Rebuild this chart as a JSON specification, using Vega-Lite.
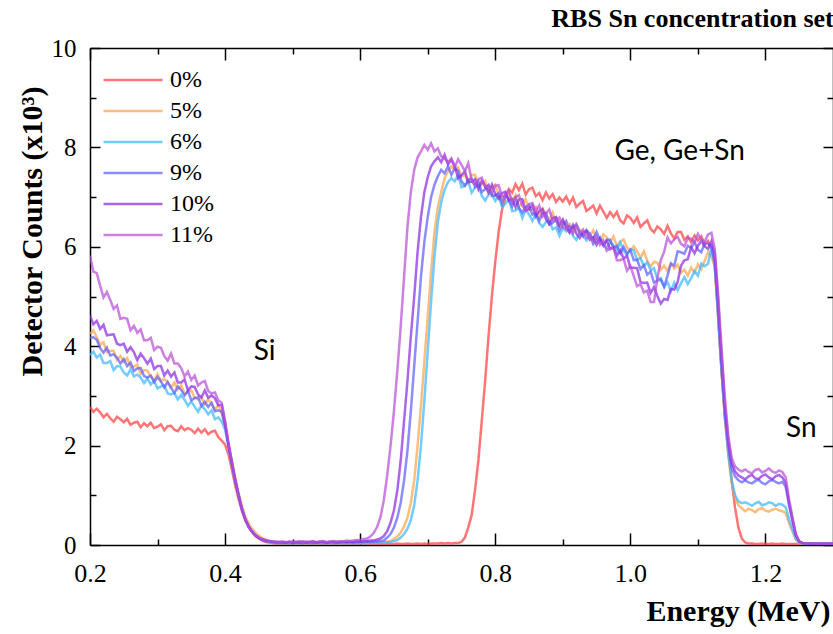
{
"$schema": "https://vega.github.io/schema/vega-lite/v6.json",
"width": 743, "height": 497,
"autosize": {"type": "none"},
"padding": {"left": 90, "top": 48, "right": 0, "bottom": 89},
"background": "white",
"title": {"text": "RBS Sn concentration set", "anchor": "end", "font": "Liberation Serif", "fontSize": 26, "fontWeight": "bold", "color": "#000", "offset": 4},
"config": {"view": {"stroke": null}, "font": "Liberation Serif", "axis": {"labelFont": "Liberation Serif", "titleFont": "Liberation Serif"}, "legend": {"labelFont": "Liberation Serif"}},
"datasets": {
"spec": [
{"e":0.200,"0%":2.78,"5%":4.25,"6%":3.82,"9%":4.17,"10%":4.62,"11%":5.82},
{"e":0.205,"0%":2.68,"5%":4.32,"6%":3.89,"9%":4.18,"10%":4.44,"11%":5.50},
{"e":0.210,"0%":2.74,"5%":4.18,"6%":3.77,"9%":4.13,"10%":4.51,"11%":5.47},
{"e":0.215,"0%":2.67,"5%":4.03,"6%":3.83,"9%":3.96,"10%":4.35,"11%":5.22},
{"e":0.220,"0%":2.57,"5%":4.08,"6%":3.66,"9%":3.87,"10%":4.43,"11%":4.98},
{"e":0.225,"0%":2.64,"5%":3.88,"6%":3.66,"9%":3.97,"10%":4.22,"11%":5.09},
{"e":0.230,"0%":2.55,"5%":3.91,"6%":3.70,"9%":3.81,"10%":4.23,"11%":4.93},
{"e":0.235,"0%":2.48,"5%":3.91,"6%":3.52,"9%":3.84,"10%":4.24,"11%":4.75},
{"e":0.240,"0%":2.58,"5%":3.72,"6%":3.60,"9%":3.77,"10%":4.05,"11%":4.82},
{"e":0.245,"0%":2.53,"5%":3.80,"6%":3.59,"9%":3.65,"10%":4.02,"11%":4.55},
{"e":0.250,"0%":2.47,"5%":3.69,"6%":3.47,"9%":3.74,"10%":4.05,"11%":4.57},
{"e":0.255,"0%":2.54,"5%":3.76,"6%":3.41,"9%":3.60,"10%":3.89,"11%":4.55},
{"e":0.260,"0%":2.42,"5%":3.58,"6%":3.53,"9%":3.67,"10%":3.98,"11%":4.32},
{"e":0.265,"0%":2.46,"5%":3.59,"6%":3.39,"9%":3.50,"10%":3.88,"11%":4.41},
{"e":0.270,"0%":2.48,"5%":3.63,"6%":3.43,"9%":3.55,"10%":3.72,"11%":4.27},
{"e":0.275,"0%":2.37,"5%":3.44,"6%":3.37,"9%":3.56,"10%":3.85,"11%":4.34},
{"e":0.280,"0%":2.45,"5%":3.52,"6%":3.26,"9%":3.40,"10%":3.76,"11%":4.12},
{"e":0.285,"0%":2.39,"5%":3.51,"6%":3.35,"9%":3.37,"10%":3.65,"11%":4.12},
{"e":0.290,"0%":2.46,"5%":3.38,"6%":3.23,"9%":3.41,"10%":3.75,"11%":4.17},
{"e":0.295,"0%":2.35,"5%":3.32,"6%":3.30,"9%":3.28,"10%":3.54,"11%":3.92},
{"e":0.300,"0%":2.38,"5%":3.44,"6%":3.15,"9%":3.38,"10%":3.60,"11%":3.99},
{"e":0.305,"0%":2.43,"5%":3.30,"6%":3.19,"9%":3.29,"10%":3.60,"11%":3.97},
{"e":0.310,"0%":2.31,"5%":3.34,"6%":3.21,"9%":3.17,"10%":3.41,"11%":3.80},
{"e":0.315,"0%":2.39,"5%":3.28,"6%":3.05,"9%":3.28,"10%":3.51,"11%":3.71},
{"e":0.320,"0%":2.40,"5%":3.17,"6%":3.03,"9%":3.16,"10%":3.39,"11%":3.85},
{"e":0.325,"0%":2.32,"5%":3.27,"6%":3.06,"9%":3.06,"10%":3.47,"11%":3.65},
{"e":0.330,"0%":2.29,"5%":3.13,"6%":2.93,"9%":3.19,"10%":3.27,"11%":3.65},
{"e":0.335,"0%":2.39,"5%":3.21,"6%":3.02,"9%":3.12,"10%":3.27,"11%":3.56},
{"e":0.340,"0%":2.31,"5%":3.04,"6%":2.92,"9%":3.01,"10%":3.33,"11%":3.39},
{"e":0.345,"0%":2.35,"5%":3.09,"6%":2.80,"9%":3.10,"10%":3.11,"11%":3.49},
{"e":0.350,"0%":2.32,"5%":3.11,"6%":2.89,"9%":2.91,"10%":3.19,"11%":3.32},
{"e":0.355,"0%":2.25,"5%":2.96,"6%":2.78,"9%":2.96,"10%":3.18,"11%":3.41},
{"e":0.360,"0%":2.34,"5%":2.93,"6%":2.68,"9%":2.97,"10%":3.03,"11%":3.21},
{"e":0.365,"0%":2.26,"5%":2.97,"6%":2.81,"9%":2.80,"10%":2.97,"11%":3.27},
{"e":0.370,"0%":2.33,"5%":2.83,"6%":2.73,"9%":2.88,"10%":3.11,"11%":3.30},
{"e":0.375,"0%":2.23,"5%":2.93,"6%":2.63,"9%":2.78,"10%":2.96,"11%":3.10},
{"e":0.380,"0%":2.28,"5%":2.84,"6%":2.71,"9%":2.86,"10%":3.01,"11%":3.05},
{"e":0.385,"0%":2.30,"5%":2.72,"6%":2.53,"9%":2.69,"10%":2.95,"11%":3.07},
{"e":0.390,"0%":2.17,"5%":2.82,"6%":2.57,"9%":2.71,"10%":2.81,"11%":2.91},
{"e":0.395,"0%":2.10,"5%":2.65,"6%":2.48,"9%":2.68,"10%":2.82,"11%":2.86},
{"e":0.400,"0%":2.02,"5%":2.42,"6%":2.32,"9%":2.40,"10%":2.45,"11%":2.50},
{"e":0.405,"0%":1.82,"5%":2.05,"6%":1.98,"9%":2.00,"10%":2.02,"11%":2.05},
{"e":0.410,"0%":1.52,"5%":1.70,"6%":1.62,"9%":1.64,"10%":1.66,"11%":1.68},
{"e":0.415,"0%":1.20,"5%":1.36,"6%":1.28,"9%":1.30,"10%":1.31,"11%":1.32},
{"e":0.420,"0%":0.92,"5%":1.05,"6%":0.98,"9%":0.99,"10%":1.00,"11%":1.01},
{"e":0.425,"0%":0.68,"5%":0.78,"6%":0.72,"9%":0.72,"10%":0.72,"11%":0.73},
{"e":0.430,"0%":0.50,"5%":0.58,"6%":0.52,"9%":0.51,"10%":0.50,"11%":0.51},
{"e":0.435,"0%":0.36,"5%":0.43,"6%":0.38,"9%":0.37,"10%":0.36,"11%":0.37},
{"e":0.440,"0%":0.26,"5%":0.33,"6%":0.28,"9%":0.27,"10%":0.26,"11%":0.27},
{"e":0.445,"0%":0.18,"5%":0.25,"6%":0.20,"9%":0.19,"10%":0.19,"11%":0.20},
{"e":0.450,"0%":0.13,"5%":0.19,"6%":0.15,"9%":0.14,"10%":0.14,"11%":0.15},
{"e":0.455,"0%":0.09,"5%":0.14,"6%":0.11,"9%":0.11,"10%":0.11,"11%":0.12},
{"e":0.460,"0%":0.06,"5%":0.11,"6%":0.08,"9%":0.08,"10%":0.09,"11%":0.10},
{"e":0.465,"0%":0.05,"5%":0.08,"6%":0.06,"9%":0.07,"10%":0.08,"11%":0.08},
{"e":0.470,"0%":0.04,"5%":0.06,"6%":0.05,"9%":0.06,"10%":0.07,"11%":0.07},
{"e":0.475,"0%":0.03,"5%":0.05,"6%":0.04,"9%":0.05,"10%":0.06,"11%":0.07},
{"e":0.480,"0%":0.03,"5%":0.04,"6%":0.04,"9%":0.05,"10%":0.06,"11%":0.06},
{"e":0.485,"0%":0.02,"5%":0.04,"6%":0.03,"9%":0.05,"10%":0.06,"11%":0.07},
{"e":0.490,"0%":0.03,"5%":0.03,"6%":0.04,"9%":0.04,"10%":0.05,"11%":0.06},
{"e":0.495,"0%":0.02,"5%":0.05,"6%":0.03,"9%":0.06,"10%":0.07,"11%":0.05},
{"e":0.500,"0%":0.02,"5%":0.04,"6%":0.04,"9%":0.04,"10%":0.05,"11%":0.07},
{"e":0.505,"0%":0.03,"5%":0.03,"6%":0.03,"9%":0.05,"10%":0.06,"11%":0.06},
{"e":0.510,"0%":0.02,"5%":0.04,"6%":0.04,"9%":0.06,"10%":0.05,"11%":0.08},
{"e":0.515,"0%":0.02,"5%":0.05,"6%":0.03,"9%":0.04,"10%":0.07,"11%":0.06},
{"e":0.520,"0%":0.03,"5%":0.03,"6%":0.04,"9%":0.05,"10%":0.05,"11%":0.07},
{"e":0.525,"0%":0.02,"5%":0.04,"6%":0.03,"9%":0.06,"10%":0.06,"11%":0.06},
{"e":0.530,"0%":0.02,"5%":0.05,"6%":0.04,"9%":0.04,"10%":0.07,"11%":0.08},
{"e":0.535,"0%":0.03,"5%":0.03,"6%":0.03,"9%":0.05,"10%":0.05,"11%":0.06},
{"e":0.540,"0%":0.02,"5%":0.04,"6%":0.04,"9%":0.06,"10%":0.06,"11%":0.07},
{"e":0.545,"0%":0.02,"5%":0.05,"6%":0.03,"9%":0.05,"10%":0.07,"11%":0.08},
{"e":0.550,"0%":0.03,"5%":0.04,"6%":0.04,"9%":0.04,"10%":0.05,"11%":0.06},
{"e":0.555,"0%":0.02,"5%":0.03,"6%":0.03,"9%":0.06,"10%":0.06,"11%":0.07},
{"e":0.560,"0%":0.02,"5%":0.05,"6%":0.04,"9%":0.05,"10%":0.07,"11%":0.08},
{"e":0.565,"0%":0.03,"5%":0.04,"6%":0.03,"9%":0.06,"10%":0.05,"11%":0.07},
{"e":0.570,"0%":0.02,"5%":0.03,"6%":0.04,"9%":0.05,"10%":0.06,"11%":0.08},
{"e":0.575,"0%":0.02,"5%":0.05,"6%":0.03,"9%":0.06,"10%":0.07,"11%":0.07},
{"e":0.580,"0%":0.03,"5%":0.04,"6%":0.04,"9%":0.05,"10%":0.06,"11%":0.09},
{"e":0.585,"0%":0.02,"5%":0.04,"6%":0.03,"9%":0.06,"10%":0.07,"11%":0.08},
{"e":0.590,"0%":0.02,"5%":0.05,"6%":0.04,"9%":0.05,"10%":0.06,"11%":0.09},
{"e":0.595,"0%":0.03,"5%":0.04,"6%":0.03,"9%":0.06,"10%":0.08,"11%":0.10},
{"e":0.600,"0%":0.02,"5%":0.05,"6%":0.04,"9%":0.06,"10%":0.07,"11%":0.10},
{"e":0.605,"0%":0.02,"5%":0.04,"6%":0.03,"9%":0.06,"10%":0.08,"11%":0.12},
{"e":0.610,"0%":0.03,"5%":0.05,"6%":0.04,"9%":0.07,"10%":0.08,"11%":0.13},
{"e":0.615,"0%":0.02,"5%":0.05,"6%":0.04,"9%":0.06,"10%":0.09,"11%":0.17},
{"e":0.620,"0%":0.02,"5%":0.04,"6%":0.04,"9%":0.07,"10%":0.09,"11%":0.24},
{"e":0.625,"0%":0.03,"5%":0.05,"6%":0.05,"9%":0.07,"10%":0.11,"11%":0.36},
{"e":0.630,"0%":0.02,"5%":0.06,"6%":0.04,"9%":0.08,"10%":0.13,"11%":0.56},
{"e":0.635,"0%":0.02,"5%":0.05,"6%":0.05,"9%":0.09,"10%":0.18,"11%":0.90},
{"e":0.640,"0%":0.03,"5%":0.07,"6%":0.05,"9%":0.15,"10%":0.28,"11%":1.40},
{"e":0.645,"0%":0.02,"5%":0.08,"6%":0.06,"9%":0.22,"10%":0.45,"11%":2.00},
{"e":0.650,"0%":0.02,"5%":0.12,"6%":0.08,"9%":0.35,"10%":0.70,"11%":2.70},
{"e":0.655,"0%":0.03,"5%":0.17,"6%":0.10,"9%":0.55,"10%":1.10,"11%":3.50},
{"e":0.660,"0%":0.02,"5%":0.25,"6%":0.15,"9%":0.85,"10%":1.70,"11%":4.40},
{"e":0.665,"0%":0.02,"5%":0.38,"6%":0.22,"9%":1.30,"10%":2.50,"11%":5.40},
{"e":0.670,"0%":0.03,"5%":0.55,"6%":0.33,"9%":1.90,"10%":3.30,"11%":6.40},
{"e":0.675,"0%":0.02,"5%":0.85,"6%":0.50,"9%":2.70,"10%":4.20,"11%":7.10},
{"e":0.680,"0%":0.02,"5%":1.30,"6%":0.80,"9%":3.60,"10%":5.00,"11%":7.55},
{"e":0.685,"0%":0.03,"5%":2.00,"6%":1.30,"9%":4.50,"10%":5.90,"11%":7.80},
{"e":0.690,"0%":0.02,"5%":2.80,"6%":2.00,"9%":5.40,"10%":6.60,"11%":7.92},
{"e":0.695,"0%":0.03,"5%":3.70,"6%":2.90,"9%":6.10,"10%":7.10,"11%":8.05},
{"e":0.700,"0%":0.02,"5%":4.60,"6%":3.90,"9%":6.60,"10%":7.40,"11%":7.95},
{"e":0.705,"0%":0.03,"5%":5.50,"6%":4.90,"9%":7.00,"10%":7.62,"11%":8.08},
{"e":0.710,"0%":0.03,"5%":6.30,"6%":5.80,"9%":7.25,"10%":7.72,"11%":7.92},
{"e":0.715,"0%":0.03,"5%":6.80,"6%":6.50,"9%":7.42,"10%":7.80,"11%":7.98},
{"e":0.720,"0%":0.04,"5%":7.10,"6%":6.90,"9%":7.55,"10%":7.70,"11%":7.82},
{"e":0.725,"0%":0.03,"5%":7.38,"6%":7.15,"9%":7.48,"10%":7.85,"11%":7.78},
{"e":0.730,"0%":0.04,"5%":7.52,"6%":7.30,"9%":7.62,"10%":7.66,"11%":7.70},
{"e":0.735,"0%":0.03,"5%":7.62,"6%":7.38,"9%":7.45,"10%":7.75,"11%":7.78},
{"e":0.740,"0%":0.04,"5%":7.55,"6%":7.32,"9%":7.58,"10%":7.62,"11%":7.60},
{"e":0.745,"0%":0.04,"5%":7.60,"6%":7.44,"9%":7.53,"10%":7.38,"11%":7.76},
{"e":0.750,"0%":0.06,"5%":7.41,"6%":7.20,"9%":7.32,"10%":7.44,"11%":7.65},
{"e":0.755,"0%":0.15,"5%":7.45,"6%":7.23,"9%":7.23,"10%":7.52,"11%":7.52},
{"e":0.760,"0%":0.35,"5%":7.29,"6%":7.31,"9%":7.35,"10%":7.30,"11%":7.68},
{"e":0.765,"0%":0.60,"5%":7.44,"6%":7.09,"9%":7.37,"10%":7.31,"11%":7.34},
{"e":0.770,"0%":1.10,"5%":7.45,"6%":7.19,"9%":7.21,"10%":7.36,"11%":7.25},
{"e":0.775,"0%":1.70,"5%":7.22,"6%":7.23,"9%":7.32,"10%":7.16,"11%":7.36},
{"e":0.780,"0%":2.50,"5%":7.25,"6%":7.03,"9%":7.10,"10%":7.33,"11%":7.39},
{"e":0.785,"0%":3.30,"5%":7.32,"6%":6.93,"9%":7.16,"10%":7.22,"11%":7.20},
{"e":0.790,"0%":4.20,"5%":7.10,"6%":7.05,"9%":7.24,"10%":7.09,"11%":7.24},
{"e":0.795,"0%":5.00,"5%":7.21,"6%":7.07,"9%":7.02,"10%":7.25,"11%":7.08},
{"e":0.800,"0%":5.70,"5%":7.25,"6%":6.92,"9%":7.03,"10%":7.06,"11%":7.23},
{"e":0.805,"0%":6.30,"5%":7.04,"6%":7.02,"9%":7.08,"10%":6.97,"11%":7.24},
{"e":0.810,"0%":6.75,"5%":6.95,"6%":6.80,"9%":6.88,"10%":7.08,"11%":7.01},
{"e":0.815,"0%":6.98,"5%":7.07,"6%":6.87,"9%":7.05,"10%":7.11,"11%":7.04},
{"e":0.820,"0%":7.16,"5%":7.09,"6%":6.95,"9%":6.95,"10%":6.93,"11%":7.12},
{"e":0.825,"0%":7.09,"5%":6.93,"6%":6.72,"9%":6.81,"10%":6.96,"11%":6.89},
{"e":0.830,"0%":7.26,"5%":7.04,"6%":6.73,"9%":6.97,"10%":6.80,"11%":7.00},
{"e":0.835,"0%":7.14,"5%":6.82,"6%":6.79,"9%":6.78,"10%":6.95,"11%":7.04},
{"e":0.840,"0%":7.27,"5%":6.88,"6%":6.58,"9%":6.69,"10%":6.96,"11%":6.83},
{"e":0.845,"0%":7.05,"5%":6.96,"6%":6.75,"9%":6.80,"10%":6.73,"11%":6.74},
{"e":0.850,"0%":7.16,"5%":6.74,"6%":6.65,"9%":6.83,"10%":6.76,"11%":6.86},
{"e":0.855,"0%":7.19,"5%":6.75,"6%":6.52,"9%":6.65,"10%":6.84,"11%":6.88},
{"e":0.860,"0%":7.02,"5%":6.80,"6%":6.67,"9%":6.68,"10%":6.61,"11%":6.72},
{"e":0.865,"0%":7.08,"5%":6.60,"6%":6.48,"9%":6.52,"10%":6.72,"11%":6.83},
{"e":0.870,"0%":6.94,"5%":6.77,"6%":6.40,"9%":6.67,"10%":6.76,"11%":6.61},
{"e":0.875,"0%":7.09,"5%":6.66,"6%":6.50,"9%":6.68,"10%":6.55,"11%":6.67},
{"e":0.880,"0%":6.97,"5%":6.53,"6%":6.53,"9%":6.45,"10%":6.46,"11%":6.75},
{"e":0.885,"0%":7.06,"5%":6.69,"6%":6.35,"9%":6.48,"10%":6.58,"11%":6.53},
{"e":0.890,"0%":6.90,"5%":6.50,"6%":6.39,"9%":6.56,"10%":6.60,"11%":6.54},
{"e":0.895,"0%":6.99,"5%":6.41,"6%":6.22,"9%":6.33,"10%":6.44,"11%":6.59},
{"e":0.900,"0%":6.91,"5%":6.52,"6%":6.37,"9%":6.44,"10%":6.55,"11%":6.39},
{"e":0.905,"0%":7.01,"5%":6.40,"6%":6.31,"9%":6.52,"10%":6.39,"11%":6.36},
{"e":0.910,"0%":6.87,"5%":6.46,"6%":6.40,"9%":6.32,"10%":6.28,"11%":6.41},
{"e":0.915,"0%":6.99,"5%":6.30,"6%":6.22,"9%":6.40,"10%":6.44,"11%":6.27},
{"e":0.920,"0%":6.80,"5%":6.46,"6%":6.14,"9%":6.45,"10%":6.27,"11%":6.40},
{"e":0.925,"0%":6.87,"5%":6.34,"6%":6.30,"9%":6.29,"10%":6.18,"11%":6.28},
{"e":0.930,"0%":6.92,"5%":6.21,"6%":6.23,"9%":6.21,"10%":6.30,"11%":6.35},
{"e":0.935,"0%":6.72,"5%":6.33,"6%":6.13,"9%":6.34,"10%":6.31,"11%":6.18},
{"e":0.940,"0%":6.77,"5%":6.23,"6%":6.24,"9%":6.26,"10%":6.14,"11%":6.24},
{"e":0.945,"0%":6.83,"5%":6.33,"6%":6.05,"9%":6.15,"10%":6.19,"11%":6.08},
{"e":0.950,"0%":6.67,"5%":6.15,"6%":6.13,"9%":6.30,"10%":6.04,"11%":6.20},
{"e":0.955,"0%":6.83,"5%":6.08,"6%":6.19,"9%":6.13,"10%":6.17,"11%":6.04},
{"e":0.960,"0%":6.71,"5%":6.25,"6%":6.04,"9%":6.02,"10%":6.05,"11%":6.13},
{"e":0.965,"0%":6.58,"5%":6.19,"6%":5.97,"9%":6.14,"10%":6.12,"11%":5.92},
{"e":0.970,"0%":6.70,"5%":6.09,"6%":6.10,"9%":6.14,"10%":5.95,"11%":5.97},
{"e":0.975,"0%":6.60,"5%":6.21,"6%":6.03,"9%":5.97,"10%":5.99,"11%":5.98},
{"e":0.980,"0%":6.70,"5%":6.02,"6%":5.93,"9%":6.02,"10%":5.82,"11%":5.73},
{"e":0.985,"0%":6.53,"5%":6.10,"6%":6.09,"9%":5.87,"10%":5.93,"11%":5.73},
{"e":0.990,"0%":6.47,"5%":6.15,"6%":5.92,"9%":6.00,"10%":5.76,"11%":5.76},
{"e":0.995,"0%":6.63,"5%":5.99,"6%":5.83,"9%":5.87,"10%":5.82,"11%":5.52},
{"e":1.000,"0%":6.58,"5%":5.91,"6%":5.95,"9%":5.94,"10%":5.58,"11%":5.61},
{"e":1.005,"0%":6.48,"5%":6.01,"6%":5.93,"9%":5.73,"10%":5.58,"11%":5.41},
{"e":1.010,"0%":6.59,"5%":5.91,"6%":5.74,"9%":5.74,"10%":5.57,"11%":5.21},
{"e":1.015,"0%":6.40,"5%":5.78,"6%":5.77,"9%":5.55,"10%":5.29,"11%":5.25},
{"e":1.020,"0%":6.47,"5%":5.91,"6%":5.61,"9%":5.63,"10%":5.27,"11%":5.08},
{"e":1.025,"0%":6.53,"5%":5.72,"6%":5.69,"9%":5.44,"10%":5.28,"11%":5.12},
{"e":1.030,"0%":6.36,"5%":5.60,"6%":5.53,"9%":5.50,"10%":5.07,"11%":4.89},
{"e":1.035,"0%":6.29,"5%":5.70,"6%":5.57,"9%":5.28,"10%":5.19,"11%":4.89},
{"e":1.040,"0%":6.41,"5%":5.68,"6%":5.35,"9%":5.32,"10%":5.01,"11%":5.37},
{"e":1.045,"0%":6.35,"5%":5.54,"6%":5.37,"9%":5.34,"10%":4.86,"11%":5.73},
{"e":1.050,"0%":6.26,"5%":5.62,"6%":5.19,"9%":5.20,"10%":4.95,"11%":5.90},
{"e":1.055,"0%":6.42,"5%":5.51,"6%":5.29,"9%":5.42,"10%":4.93,"11%":6.19},
{"e":1.060,"0%":6.27,"5%":5.67,"6%":5.11,"9%":5.66,"10%":5.15,"11%":6.07},
{"e":1.065,"0%":6.17,"5%":5.56,"6%":5.28,"9%":5.62,"10%":5.14,"11%":6.15},
{"e":1.070,"0%":6.30,"5%":5.64,"6%":5.13,"9%":5.91,"10%":5.29,"11%":6.20},
{"e":1.075,"0%":6.30,"5%":5.48,"6%":5.27,"9%":5.89,"10%":5.62,"11%":6.06},
{"e":1.080,"0%":6.14,"5%":5.54,"6%":5.39,"9%":5.86,"10%":5.73,"11%":6.01},
{"e":1.085,"0%":6.21,"5%":5.42,"6%":5.25,"9%":6.02,"10%":5.75,"11%":6.18},
{"e":1.090,"0%":6.09,"5%":5.58,"6%":5.37,"9%":5.98,"10%":5.99,"11%":6.16},
{"e":1.095,"0%":6.23,"5%":5.48,"6%":5.51,"9%":6.10,"10%":5.87,"11%":6.08},
{"e":1.100,"0%":6.13,"5%":5.65,"6%":5.42,"9%":5.94,"10%":6.02,"11%":6.26},
{"e":1.105,"0%":6.21,"5%":5.55,"6%":5.66,"9%":5.89,"10%":6.12,"11%":6.15},
{"e":1.110,"0%":6.05,"5%":5.72,"6%":5.61,"9%":6.07,"10%":6.01,"11%":6.10},
{"e":1.115,"0%":6.12,"5%":5.89,"6%":5.66,"9%":6.06,"10%":5.96,"11%":6.25},
{"e":1.120,"0%":5.97,"5%":5.80,"6%":6.00,"9%":6.00,"10%":6.11,"11%":6.28},
{"e":1.125,"0%":5.60,"5%":5.60,"6%":5.62,"9%":5.70,"10%":5.85,"11%":5.95},
{"e":1.130,"0%":4.60,"5%":4.60,"6%":4.60,"9%":4.70,"10%":4.90,"11%":5.05},
{"e":1.135,"0%":3.50,"5%":3.50,"6%":3.50,"9%":3.60,"10%":3.80,"11%":3.95},
{"e":1.140,"0%":2.55,"5%":2.55,"6%":2.58,"9%":2.65,"10%":2.80,"11%":2.95},
{"e":1.145,"0%":1.90,"5%":1.80,"6%":1.85,"9%":2.00,"10%":2.10,"11%":2.20},
{"e":1.150,"0%":1.30,"5%":1.25,"6%":1.30,"9%":1.55,"10%":1.65,"11%":1.75},
{"e":1.155,"0%":0.75,"5%":0.95,"6%":1.00,"9%":1.38,"10%":1.48,"11%":1.58},
{"e":1.160,"0%":0.35,"5%":0.80,"6%":0.88,"9%":1.30,"10%":1.40,"11%":1.52},
{"e":1.165,"0%":0.13,"5%":0.74,"6%":0.84,"9%":1.26,"10%":1.36,"11%":1.48},
{"e":1.170,"0%":0.05,"5%":0.68,"6%":0.86,"9%":1.30,"10%":1.32,"11%":1.52},
{"e":1.175,"0%":0.03,"5%":0.73,"6%":0.83,"9%":1.26,"10%":1.38,"11%":1.47},
{"e":1.180,"0%":0.03,"5%":0.70,"6%":0.79,"9%":1.24,"10%":1.41,"11%":1.44},
{"e":1.185,"0%":0.02,"5%":0.66,"6%":0.84,"9%":1.29,"10%":1.34,"11%":1.51},
{"e":1.190,"0%":0.02,"5%":0.72,"6%":0.87,"9%":1.31,"10%":1.33,"11%":1.53},
{"e":1.195,"0%":0.03,"5%":0.74,"6%":0.80,"9%":1.25,"10%":1.39,"11%":1.46},
{"e":1.200,"0%":0.02,"5%":0.69,"6%":0.82,"9%":1.22,"10%":1.42,"11%":1.49},
{"e":1.205,"0%":0.02,"5%":0.67,"6%":0.86,"9%":1.28,"10%":1.36,"11%":1.54},
{"e":1.210,"0%":0.03,"5%":0.71,"6%":0.84,"9%":1.31,"10%":1.32,"11%":1.48},
{"e":1.215,"0%":0.02,"5%":0.73,"6%":0.79,"9%":1.27,"10%":1.38,"11%":1.45},
{"e":1.220,"0%":0.02,"5%":0.70,"6%":0.83,"9%":1.24,"10%":1.41,"11%":1.50},
{"e":1.225,"0%":0.03,"5%":0.68,"6%":0.81,"9%":1.27,"10%":1.36,"11%":1.47},
{"e":1.230,"0%":0.02,"5%":0.64,"6%":0.76,"9%":1.17,"10%":1.25,"11%":1.36},
{"e":1.235,"0%":0.02,"5%":0.44,"6%":0.51,"9%":0.79,"10%":0.84,"11%":0.92},
{"e":1.240,"0%":0.02,"5%":0.27,"6%":0.31,"9%":0.48,"10%":0.52,"11%":0.56},
{"e":1.245,"0%":0.02,"5%":0.11,"6%":0.12,"9%":0.19,"10%":0.20,"11%":0.22},
{"e":1.250,"0%":0.02,"5%":0.04,"6%":0.05,"9%":0.07,"10%":0.07,"11%":0.08},
{"e":1.255,"0%":0.02,"5%":0.03,"6%":0.03,"9%":0.04,"10%":0.04,"11%":0.04},
{"e":1.260,"0%":0.02,"5%":0.02,"6%":0.02,"9%":0.03,"10%":0.03,"11%":0.03},
{"e":1.265,"0%":0.02,"5%":0.02,"6%":0.03,"9%":0.02,"10%":0.03,"11%":0.03},
{"e":1.270,"0%":0.02,"5%":0.03,"6%":0.02,"9%":0.03,"10%":0.02,"11%":0.03},
{"e":1.275,"0%":0.02,"5%":0.02,"6%":0.02,"9%":0.02,"10%":0.03,"11%":0.02},
{"e":1.280,"0%":0.02,"5%":0.02,"6%":0.03,"9%":0.03,"10%":0.02,"11%":0.03},
{"e":1.285,"0%":0.02,"5%":0.03,"6%":0.02,"9%":0.02,"10%":0.03,"11%":0.02},
{"e":1.290,"0%":0.02,"5%":0.02,"6%":0.02,"9%":0.03,"10%":0.02,"11%":0.03},
{"e":1.295,"0%":0.02,"5%":0.02,"6%":0.03,"9%":0.02,"10%":0.03,"11%":0.02},
{"e":1.300,"0%":0.02,"5%":0.03,"6%":0.02,"9%":0.03,"10%":0.02,"11%":0.03}
],
"notes": [
{"x": 0.4585, "y": 3.88, "t": "Si"},
{"x": 1.073, "y": 7.91, "t": "Ge, Ge+Sn"},
{"x": 1.253, "y": 2.33, "t": "Sn"}
]
},
"layer": [
{
"data": {"name": "spec"},
"transform": [{"fold": ["0%", "5%", "6%", "9%", "10%", "11%"], "as": ["series", "v"]}],
"mark": {"type": "line", "strokeWidth": 2.5, "opacity": 0.72, "clip": true},
"encoding": {
"x": {"field": "e", "type": "quantitative", "scale": {"domain": [0.2, 1.3], "nice": false, "zero": false},
 "axis": {"orient": "bottom", "values": [0.2,0.3,0.4,0.5,0.6,0.7,0.8,0.9,1.0,1.1,1.2], "grid": false,
  "labelExpr": "round(datum.value*10)%2==0 ? format(datum.value,'.1f') : ''",
  "tickSize": {"condition": {"test": "round(datum.value*10)%2==0", "value": -12}, "value": -6},
  "tickColor": "#000", "tickWidth": 1.5, "domainColor": "#000", "domainWidth": 1.5,
  "labelFont": "Liberation Serif", "labelFontSize": 26, "labelColor": "#000", "labelPadding": 27, "labelFlush": false, "labelOverlap": false,
  "title": "Energy (MeV)", "titleFont": "Liberation Serif", "titleFontSize": 30, "titleFontWeight": "bold", "titleColor": "#000",
  "titleAlign": "right", "titleX": 740, "titleY": 75, "titleBaseline": "alphabetic"}},
"y": {"field": "v", "type": "quantitative", "scale": {"domain": [0, 10], "nice": false},
 "axis": {"orient": "left", "values": [0,1,2,3,4,5,6,7,8,9,10], "grid": false,
  "labelExpr": "datum.value%2==0 ? datum.value : ''",
  "tickSize": {"condition": {"test": "datum.value%2==0", "value": -10}, "value": -6},
  "tickColor": "#000", "tickWidth": 1.5, "domainColor": "#000", "domainWidth": 1.5,
  "labelFont": "Liberation Serif", "labelFontSize": 25, "labelColor": "#000", "labelPadding": 24, "labelOverlap": false, "labelFlush": false,
  "title": "Detector Counts (x10³)", "titleFont": "Liberation Serif", "titleFontSize": 30, "titleFontWeight": "bold", "titleColor": "#000",
  "titleAngle": 270, "titleAlign": "center", "titleX": -49, "titleY": 183, "titleBaseline": "alphabetic"}},
"color": {"field": "series", "type": "nominal",
 "scale": {"domain": ["0%", "5%", "6%", "9%", "10%", "11%"], "range": ["#ff4040", "#ffa54a", "#3cb8ff", "#6060ff", "#8a2be2", "#b94fd6"]},
 "legend": {"orient": "none", "legendX": 31, "legendY": 20, "title": null, "symbolType": "M-5.9,0H5.9", "symbolSize": 100, "symbolStrokeWidth": 2.5, "symbolOpacity": 0.72,
  "labelFont": "Liberation Serif", "labelFontSize": 24, "labelColor": "#000", "labelOffset": 25, "rowPadding": 7, "padding": 0}}
}
},
{
"data": {"name": "notes"},
"mark": {"type": "text", "font": "Lato", "fontSize": 28, "color": "#000", "align": "center", "baseline": "middle"},
"encoding": {
"x": {"field": "x", "type": "quantitative", "scale": {"domain": [0.2, 1.3], "nice": false, "zero": false},
 "axis": {"orient": "top", "values": [0.2,0.3,0.4,0.5,0.6,0.7,0.8,0.9,1.0,1.1,1.2], "grid": false, "labels": false, "title": null,
  "tickSize": {"condition": {"test": "round(datum.value*10)%2==0", "value": -12}, "value": -6},
  "tickColor": "#000", "tickWidth": 1.5, "domainColor": "#000", "domainWidth": 1.5}},
"y": {"field": "y", "type": "quantitative", "scale": {"domain": [0, 10], "nice": false},
 "axis": {"orient": "right", "values": [0,1,2,3,4,5,6,7,8,9,10], "grid": false, "labels": false, "title": null,
  "tickSize": {"condition": {"test": "datum.value%2==0", "value": -10}, "value": -6},
  "tickColor": "#000", "tickWidth": 1.5, "domainColor": "#000", "domainWidth": 1.5}},
"text": {"field": "t", "type": "nominal"}
}
}
],
"resolve": {"axis": {"x": "independent", "y": "independent"}}
}
